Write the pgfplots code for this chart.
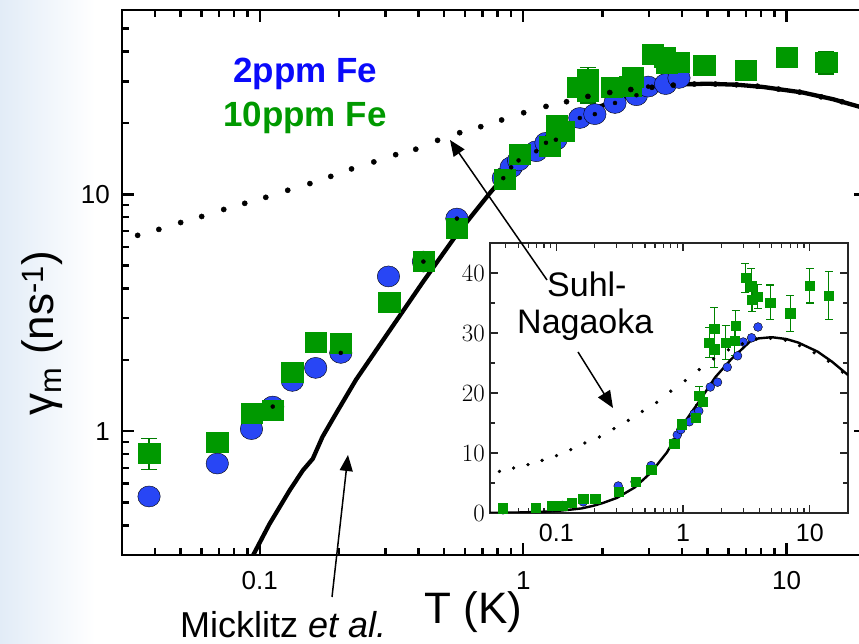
\documentclass[border=0pt]{standalone}
\usepackage{fontspec}
\setmainfont{Liberation Sans}
\usepackage{pgfplots}
\pgfplotsset{compat=1.18}
\usepackage{pgfplotstable}
\usetikzlibrary{arrows.meta}
\definecolor{mblue}{RGB}{40,70,245}
\definecolor{mgreen}{RGB}{0,153,0}
\definecolor{dgreen}{RGB}{0,125,0}
\definecolor{lblue}{RGB}{10,10,250}
\definecolor{bgblue}{RGB}{226,236,247}

% 2 ppm Fe
\pgfplotstableread{
x y
0.038 0.53
0.069 0.73
0.093 1.02
0.112 1.27
0.133 1.63
0.163 1.85
0.203 2.14
0.308 4.5
0.418 5.2
0.56 7.9
0.84 11.7
0.90 13.0
0.96 13.9
1.12 15.2
1.22 16.5
1.33 17.0
1.64 21.0
1.87 21.8
2.23 24.3
2.69 26.2
2.98 28.5
3.47 29.2
3.90 31.0
}\bluedata
\pgfplotstableread{
x y ey
0.112 1.27 0.08
0.203 2.14 0.10
0.418 5.2 0.3
0.56 7.9 0.4
0.84 11.7 0.6
0.90 13.0 0.6
0.96 13.9 0.7
1.12 15.2 0.8
1.22 16.5 0.8
1.33 17.0 0.9
1.64 21.0 1.0
1.87 21.8 1.0
2.23 24.3 1.2
2.69 26.2 1.2
2.98 28.5 1.3
}\blueerr
% 10 ppm Fe
\pgfplotstableread{
x y ey
0.038 0.81 0.12
0.069 0.90 0
0.093 1.19 0
0.112 1.22 0.05
0.133 1.78 0.05
0.163 2.37 0
0.203 2.34 0.05
0.31 3.5 0
0.42 5.2 0.1
0.56 7.2 0.1
0.85 11.6 0.3
0.97 14.8 0.3
1.26 15.9 0.3
1.34 19.6 1.5
1.42 18.5 0.5
1.61 28.4 2.5
1.76 27.3 3.0
1.76 30.7 3.5
2.17 28.4 2.8
2.55 28.7 2.5
2.60 31.2 2.5
3.10 39.2 2.4
3.45 37.8 2.9
3.50 35.6 2.0
3.87 36.1 2.0
4.87 35.1 2.9
7.0 33.3 3.0
10.0 37.9 2.9
14.1 36.2 4.0
}\greendata
% Micklitz et al.
\pgfplotstableread{
x y
0.03 0.03
0.05 0.085
0.07 0.165
0.094 0.297
0.1088 0.405
0.1297 0.561
0.1456 0.682
0.159 0.765
0.173 0.946
0.195 1.19
0.232 1.65
0.301 2.52
0.416 4.26
0.555 6.69
0.746 10.1
0.995 14.7
1.33 18.5
1.79 22.6
2.39 25.6
3.38 28.6
3.93 29.1
5.0 29.3
6.5 29.0
8.11 28.4
11.5 26.9
15.0 25.2
20.0 23.0
}\micklitz
% Suhl-Nagaoka (main, dot positions)
\pgfplotstableread{
x y
0.0344 6.71
0.0414 7.11
0.0501 7.60
0.0602 8.06
0.0730 8.63
0.0877 9.16
0.1054 9.71
0.1277 10.4
0.155 11.1
0.186 11.9
0.223 12.8
0.271 13.7
0.328 14.7
0.391 15.5
0.473 16.9
0.574 18.2
0.690 19.3
0.828 20.6
1.004 22.1
1.22 23.5
1.46 24.6
1.76 25.9
2.13 26.9
2.56 27.7
3.08 28.3
3.71 28.9
4.46 29.2
5.36 29.2
6.44 29.0
7.74 28.6
9.31 27.8
11.2 27.0
13.5 25.8
16.2 24.6
19.5 23.4
}\suhlmain
% Suhl-Nagaoka (inset, dot positions)
\pgfplotstableread{
x y
0.0356 6.93
0.0461 7.5
0.0598 8.05
0.0773 8.77
0.1004 9.55
0.130 10.55
0.168 11.67
0.219 12.67
0.285 14.05
0.370 15.43
0.477 16.93
0.619 18.43
0.80 20.3
1.04 22.05
1.34 23.9
1.74 25.7
2.28 27.2
2.94 28.2
3.80 29.0
4.9 29.1
6.4 28.8
8.3 27.9
10.8 26.7
14.0 25.3
18.1 23.5
}\suhlinset

\begin{document}
\begin{tikzpicture}[x=1pt,y=1pt]
\shade[left color=bgblue, right color=white] (0,0) rectangle (95,644);

% ---------------- main axis ----------------
\begin{axis}[
  at={(122pt,89pt)}, anchor=south west,
  scale only axis, width=744pt, height=545pt,
  xmode=log, ymode=log,
  xmin=0.03, xmax=20, ymin=0.3, ymax=60,
  xtick={0.1,1,10}, xticklabels={0.1,1,10},
  ytick={1,10}, yticklabels={1,10},
  minor xtick={0.04,0.05,0.06,0.07,0.08,0.09,0.2,0.3,0.4,0.5,0.6,0.7,0.8,0.9,2,3,4,5,6,7,8,9},
  minor ytick={0.4,0.5,0.6,0.7,0.8,0.9,2,3,4,5,6,7,8,9,20,30,40,50},
  tick align=inside, tick pos=both,
  major tick length=12pt, minor tick length=7pt,
  tick style={line width=2.5pt, black},
  axis line style={line width=2.8pt},
  xticklabel style={font=\fontsize{26}{26}\selectfont, anchor=north, inner sep=0pt, yshift=-16pt},
  yticklabel style={font=\fontsize{26}{26}\selectfont, anchor=east, inner sep=0pt, xshift=-12pt},
  xlabel={T (K)},
  ylabel={γ\textsubscript{m} (ns\textsuperscript{-1})},
  label style={font=\fontsize{44}{44}\selectfont, inner sep=0pt},
  xlabel style={at={(axis description cs:0.4725,-0.1266)}, anchor=base},
  ylabel style={at={(axis description cs:-0.108,0.407)}, anchor=center},
]
\addplot[only marks, mark=*, mark size=10.5pt, mark options={fill=mblue, draw=none, xscale=1.07}] table[x=x,y=y] {\bluedata};
\addplot[only marks, mark=none, error bars/.cd, y dir=both, y explicit,
  error bar style={line width=1.3pt, dgreen},
  error mark options={rotate=90, line width=1.3pt, dgreen, mark size=8pt}] table[x=x,y=y,y error=ey] {\greendata};
\addplot[only marks, mark=square*, mark size=10pt, mark options={fill=mgreen, draw=mgreen, xscale=1.07}] table[x=x,y=y] {\greendata};
\addplot[only marks, mark=none, error bars/.cd, y dir=both, y explicit,
  error bar style={line width=1.3pt, mblue!85!black},
  error mark options={rotate=90, line width=1.3pt, mblue!85!black, mark size=6pt}] table[x=x,y=y,y error=ey] {\blueerr};
\addplot[black, line width=4.3pt, line join=round, line cap=round] table[x=x,y=y] {\micklitz};
\addplot[only marks, mark=*, mark size=2.6pt, mark options={fill=black, draw=none}] table[x=x,y=y] {\suhlmain};
\end{axis}

% ---------------- inset ----------------
\begin{axis}[
  at={(490pt,131pt)}, anchor=south west,
  scale only axis, width=358pt, height=270pt,
  xmode=log,
  xmin=0.03, xmax=20, ymin=0, ymax=45,
  xtick={0.1,1,10}, xticklabels={0.1,1,10},
  minor xtick={0.04,0.05,0.06,0.07,0.08,0.09,0.2,0.3,0.4,0.5,0.6,0.7,0.8,0.9,2,3,4,5,6,7,8,9},
  ytick={0,10,20,30,40}, minor ytick={5,15,25,35},
  tick align=inside, tick pos=both,
  major tick length=8pt, minor tick length=5pt,
  tick style={line width=1.2pt, black!85},
  axis line style={line width=1.4pt, black!85},
  axis background/.style={fill=white},
  xticklabel style={font=\fontsize{25}{25}\selectfont, anchor=north, inner sep=0pt, yshift=-11pt},
  yticklabel style={font=\fontsize{28}{28}\selectfont, anchor=east, inner sep=0pt, xshift=-5pt},
]
\addplot[only marks, mark=*, mark size=4.4pt, mark options={fill=mblue, draw=none}] table[x=x,y=y] {\bluedata};
\addplot[only marks, mark=none, error bars/.cd, y dir=both, y explicit,
  error bar style={line width=1.2pt, dgreen!80!mgreen},
  error mark options={rotate=90, line width=1.2pt, dgreen!80!mgreen, mark size=4pt}] table[x=x,y=y,y error=ey] {\greendata};
\addplot[only marks, mark=square*, mark size=4.6pt, mark options={fill=mgreen, draw=mgreen}] table[x=x,y=y] {\greendata};
\addplot[black, line width=2.4pt, line join=round] table[x=x,y=y] {\micklitz};
\addplot[only marks, mark=*, mark size=1.5pt, mark options={fill=black, draw=none}] table[x=x,y=y] {\suhlinset};
\end{axis}

% ---------------- annotations ----------------
\node[anchor=base west, inner sep=0pt, text=lblue, font=\fontsize{35}{35}\selectfont\bfseries] at (233,561) {2ppm Fe};
\node[anchor=base west, inner sep=0pt, text=mgreen, font=\fontsize{35}{35}\selectfont\bfseries] at (223,517) {10ppm Fe};
\node[anchor=base west, inner sep=0pt, font=\fontsize{34}{34}\selectfont] at (547,347) {Suhl-};
\node[anchor=base west, inner sep=0pt, font=\fontsize{34}{34}\selectfont] at (517,310) {Nagaoka};
\node[anchor=base west, inner sep=0pt, font=\fontsize{36}{36}\selectfont] at (180,6) {Micklitz \textit{et al.}};
\draw[line width=1.5pt, -{Triangle[length=16pt, width=13pt]}] (547,364) -- (450,504);
\draw[line width=1.5pt, -{Triangle[length=17pt, width=14pt]}] (578,292) -- (613,236);
\draw[line width=1.5pt, -{Triangle[length=16pt, width=13pt]}] (332,47) -- (348,189);

\pgfresetboundingbox
\useasboundingbox (0,0) rectangle (859,644);
\end{tikzpicture}
\end{document}
